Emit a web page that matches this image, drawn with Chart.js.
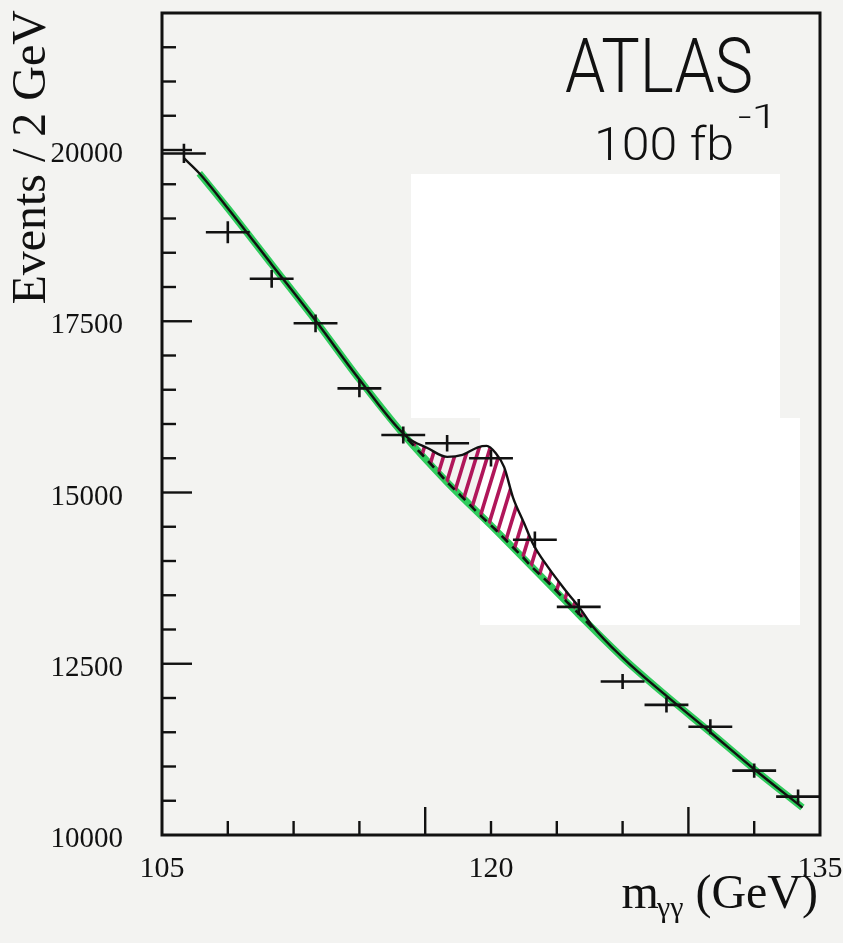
<!DOCTYPE html>
<html>
<head>
<meta charset="utf-8">
<script src="https://cdn.jsdelivr.net/npm/chart.js@4.4.1/dist/chart.umd.min.js"></script>
<style>
  html, body { margin: 0; padding: 0; background: #f3f3f1; }
  #wrap { width: 843px; height: 943px; position: relative; }
</style>
</head>
<body>
<div id="wrap"><canvas id="mggChart"></canvas></div>
<script>
// m_gg spectrum, 2 GeV bins
const binCentres  = [106, 108, 110, 112, 114, 116, 118, 120, 122, 124, 126, 128, 130, 132, 134];
const eventCounts = [19950, 18800, 18120, 17470, 16520, 15840, 15720, 15500, 14310, 13330, 12240, 11900, 11580, 10940, 10560];
const eventErrors = [140, 160, 130, 130, 130, 125, 120, 120, 120, 115, 110, 110, 110, 105, 105];
const binHalfWidth = 1;

// background fit (green)
const bkgMass   = [106.7, 108, 110, 112, 114, 116, 118, 120, 122, 124, 126, 128, 130, 132, 134.2];
const bkgEvents = [19660, 19150, 18330, 17510, 16650, 15850, 15150, 14520, 13870, 13220, 12590, 12030, 11500, 10960, 10400];

// signal + background fit (black)
const fitMass   = [106.0, 106.7, 108, 110, 112, 114, 116.2, 117.1, 118.0, 118.7, 119.4, 119.8, 120.2, 120.6, 121.0, 121.5, 121.9, 122.6, 123.5, 124.1, 124.6, 126, 128, 130, 132, 134.2];
const fitEvents = [19880, 19660, 19150, 18330, 17510, 16650, 15800, 15650, 15520, 15550, 15660, 15680, 15580, 15370, 14930, 14560, 14260, 13910, 13530, 13290, 13060, 12590, 12030, 11500, 10960, 10400];

// background under the peak (dashed), same masses as fitMass[6..20]
const peakBkg = [15780, 15470, 15150, 14930, 14700, 14580, 14460, 14330, 14200, 14040, 13900, 13690, 13390, 13200, 13030];

const xLabels = [105, 120, 135];
const yLabels = [10000, 12500, 15000, 17500, 20000];
const xTickMarks = [108, 111, 114, 117, 120, 123, 126, 129, 132];
const xLongTicks = [117, 129];

const pts = (xs, ys) => xs.map((x, i) => ({ x: x, y: ys[i] }));
const peakMass = fitMass.slice(6, 21);
const peakTotal = fitEvents.slice(6, 21);

function hatchPattern() {
  const c = document.createElement('canvas');
  c.width = 11; c.height = 36;
  const g = c.getContext('2d');
  g.strokeStyle = '#b0165a';
  g.lineWidth = 3.6;
  g.lineCap = 'round';
  for (const dx of [-11, 0, 11]) {
    g.beginPath();
    g.moveTo(dx, 36);
    g.lineTo(dx + 11, 0);
    g.stroke();
  }
  return g.createPattern(c, 'repeat');
}

const serif = '"Liberation Serif", "Times New Roman", serif';
const hand = '300 {s}px "Roboto Light", Roboto, "Open Sans", sans-serif';

// squeeze text horizontally so that it covers a given width
function fitText(ctx, text, size, x, y, width) {
  ctx.font = hand.replace('{s}', size);
  const w = ctx.measureText(text).width;
  ctx.save();
  ctx.translate(x, y);
  ctx.scale(width / w, 1);
  ctx.fillText(text, 0, 0);
  ctx.restore();
}

const atlasDecor = {
  id: 'atlasDecor',
  beforeDraw(chart) {
    // whiter patch of the scan
    const ctx = chart.ctx;
    ctx.save();
    ctx.fillStyle = '#ffffff';
    ctx.fillRect(411, 174, 369, 244);
    ctx.fillRect(480, 418, 320, 207);
    ctx.restore();
  },
  afterDatasetsDraw(chart) {
    const ctx = chart.ctx;
    const xs = chart.scales.x, ys = chart.scales.y;
    ctx.save();
    ctx.strokeStyle = '#111';
    ctx.lineWidth = 2.6;
    binCentres.forEach((m, i) => {
      const px = xs.getPixelForValue(m);
      const py = ys.getPixelForValue(eventCounts[i]);
      ctx.beginPath();
      ctx.moveTo(xs.getPixelForValue(m - binHalfWidth), py);
      ctx.lineTo(xs.getPixelForValue(m + binHalfWidth), py);
      ctx.moveTo(px, ys.getPixelForValue(eventCounts[i] + eventErrors[i]));
      ctx.lineTo(px, ys.getPixelForValue(eventCounts[i] - eventErrors[i]));
      ctx.stroke();
    });
    ctx.restore();
  },
  afterDraw(chart) {
    const ctx = chart.ctx;
    const a = chart.chartArea;
    const xs = chart.scales.x, ys = chart.scales.y;
    ctx.save();
    ctx.strokeStyle = '#111';
    ctx.lineWidth = 3;
    ctx.strokeRect(a.left, a.top, a.right - a.left, a.bottom - a.top);

    ctx.lineWidth = 2.4;
    for (let v = 10500; v < 22000; v += 500) {
      const py = ys.getPixelForValue(v);
      const len = (v % 2500 === 0) ? 30 : 14;
      ctx.beginPath();
      ctx.moveTo(a.left, py);
      ctx.lineTo(a.left + len, py);
      ctx.stroke();
    }
    xTickMarks.forEach(m => {
      const px = xs.getPixelForValue(m);
      const len = xLongTicks.includes(m) ? 28 : 14;
      ctx.beginPath();
      ctx.moveTo(px, a.bottom);
      ctx.lineTo(px, a.bottom - len);
      ctx.stroke();
    });

    // tick labels
    ctx.fillStyle = '#111';
    ctx.textBaseline = 'alphabetic';
    ctx.font = '29px ' + serif;
    ctx.textAlign = 'right';
    yLabels.forEach(v => ctx.fillText(String(v), a.left - 39, ys.getPixelForValue(v) + 12));
    ctx.font = '30px ' + serif;
    ctx.textAlign = 'center';
    xLabels.forEach(v => ctx.fillText(String(v), xs.getPixelForValue(v), a.bottom + 42));

    // axis titles
    ctx.save();
    ctx.translate(45, 10);
    ctx.rotate(-Math.PI / 2);
    ctx.font = '48px ' + serif;
    ctx.textAlign = 'right';
    ctx.fillText('Events / 2 GeV', 0, 0);
    ctx.restore();

    ctx.textAlign = 'left';
    ctx.font = '48px ' + serif;
    const wM = ctx.measureText('m').width;
    const wTail = ctx.measureText(' (GeV)').width;
    ctx.font = '30px ' + serif;
    const wSub = ctx.measureText('\u03b3\u03b3').width;
    const x0 = 818 - wM - wSub - wTail + 2;
    ctx.font = '48px ' + serif;
    ctx.fillText('m', x0, 908);
    ctx.font = '30px ' + serif;
    ctx.fillText('\u03b3\u03b3', x0 + wM - 2, 917);
    ctx.font = '48px ' + serif;
    ctx.fillText(' (GeV)', x0 + wM + wSub - 2, 908);

    // hand-written label
    fitText(ctx, 'ATLAS', 76, 565, 92, 188);
    fitText(ctx, '100 fb', 46, 594, 160, 140);
    fitText(ctx, '-1', 34, 738, 128, 40);
    ctx.restore();
  }
};

const ctx = document.getElementById('mggChart').getContext('2d');
const mggChart = new Chart(ctx, {
  type: 'line',
  data: {
    datasets: [
      {
        label: 'data',
        type: 'scatter',
        data: pts(binCentres, eventCounts),
        pointRadius: 0,
        showLine: false,
        order: 0
      },
      {
        label: 'background under peak',
        data: pts(peakMass, peakBkg),
        borderColor: '#111',
        borderWidth: 2.6,
        borderDash: [9, 6],
        pointRadius: 0,
        fill: false,
        order: 1
      },
      {
        label: 'signal + background',
        data: pts(fitMass, fitEvents),
        borderColor: '#111',
        borderWidth: 2.4,
        pointRadius: 0,
        cubicInterpolationMode: 'monotone',
        fill: false,
        order: 2
      },
      {
        label: 'signal',
        data: pts(peakMass, peakTotal),
        borderWidth: 0,
        borderColor: 'rgba(0,0,0,0)',
        pointRadius: 0,
        cubicInterpolationMode: 'monotone',
        backgroundColor: hatchPattern(),
        fill: 1,
        order: 3
      },
      {
        label: 'background',
        data: pts(bkgMass, bkgEvents),
        borderColor: '#2fcb5c',
        borderWidth: 7,
        pointRadius: 0,
        tension: 0.3,
        fill: false,
        order: 4
      }
    ]
  },
  options: {
    responsive: true,
    maintainAspectRatio: false,
    animation: false,
    layout: { padding: { left: 162, right: 23, top: 13, bottom: 108 } },
    plugins: {
      legend: { display: false },
      tooltip: { enabled: false },
      filler: { propagate: false }
    },
    scales: {
      x: { type: 'linear', display: false, min: 105, max: 135 },
      y: { type: 'linear', display: false, min: 10000, max: 22000 }
    }
  },
  plugins: [atlasDecor]
});
</script>
</body>
</html>
